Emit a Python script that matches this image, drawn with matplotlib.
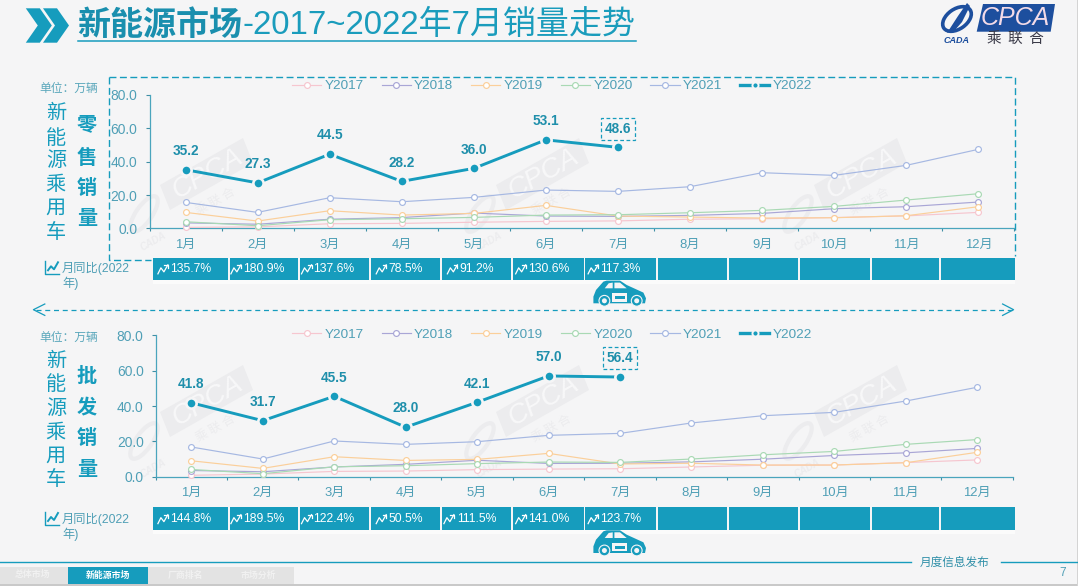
#
#  NEV market monthly sales page: retail chart on top, wholesale below.
#  Page furniture is drawn on a full page axes in pixel coordinates.
#
import matplotlib
matplotlib.use('Agg')
import numpy as np
import matplotlib.pyplot as plt
from matplotlib.lines import Line2D
from matplotlib.patches import Rectangle, Polygon, Circle, Ellipse

plt.rcParams['font.family'] = ['Liberation Sans', 'Noto Sans CJK SC', 'DejaVu Sans']

months = ['1月', '2月', '3月', '4月', '5月', '6月', '7月', '8月', '9月', '10月', '11月', '12月']
years = ['Y2017', 'Y2018', 'Y2019', 'Y2020', 'Y2021', 'Y2022']
yticks = [0, 20, 40, 60, 80]

retail_2017 = [0.6, 0.9, 2.8, 3.0, 3.7, 4.2, 4.5, 5.5, 5.8, 6.5, 7.5, 9.6]
retail_2018 = [3.3, 2.5, 5.5, 6.5, 9.2, 7.4, 7.2, 7.8, 9.0, 11.8, 13.0, 15.8]
retail_2019 = [9.6, 4.4, 10.6, 8.0, 9.0, 13.8, 7.4, 6.8, 6.2, 6.4, 7.6, 13.0]
retail_2020 = [4.0, 1.6, 5.2, 5.8, 6.6, 8.0, 8.2, 9.4, 10.8, 13.2, 17.0, 20.8]
retail_2021 = [15.6, 9.6, 18.4, 16.0, 18.6, 23.0, 22.2, 25.0, 33.4, 31.8, 37.8, 47.4]
retail_2022 = [35.2, 27.3, 44.5, 28.2, 36.0, 53.1, 48.6]

whole_2017 = [0.8, 1.5, 3.0, 3.2, 4.0, 4.3, 4.5, 5.5, 6.5, 6.6, 8.0, 9.5]
whole_2018 = [3.5, 2.8, 5.5, 7.0, 9.3, 7.5, 7.6, 8.4, 9.9, 12.0, 13.5, 16.0]
whole_2019 = [9.0, 4.7, 11.3, 9.2, 9.8, 13.2, 7.2, 7.6, 6.6, 6.6, 7.9, 13.8]
whole_2020 = [4.1, 1.7, 5.6, 6.2, 7.4, 8.3, 8.1, 10.0, 12.4, 14.3, 18.3, 21.0]
whole_2021 = [16.8, 10.0, 20.2, 18.3, 19.8, 23.4, 24.5, 30.4, 34.5, 36.4, 42.8, 50.6]
whole_2022 = [41.8, 31.7, 45.5, 28.0, 42.1, 57.0, 56.4]

retail_yoy = ['135.7%', '180.9%', '137.6%', '78.5%', '91.2%', '130.6%', '117.3%']
whole_yoy = ['144.8%', '189.5%', '122.4%', '50.5%', '111.5%', '141.0%', '123.7%']
tabs = ['总体市场', '新能源市场', '厂商排名', '市场分析']

W, H = 1078, 586
BG = '#f5f5f6'
TEAL = '#169cbd'
TXT = '#4f9fb6'
BLUE = '#1d4f9e'
colors = ['#f6c6cf', '#a9a6d6', '#fbcf9a', '#a9d9b4', '#a6b8e2', TEAL]
DASH = (0, (5, 2.5))

cell_left = [153.2, 229.7, 299.6, 370.9, 441.8, 513.1, 585.3, 658, 729, 800, 872, 941]
cell_right = [228, 297.5, 368.8, 440, 511.4, 583.6, 656.3, 727.4, 798, 870, 939, 1015]


def px_axes(x0, x1, y0, y1):
    # y0 is the pixel row of value 0, y1 the pixel row of the top
    return fig.add_axes([x0 / W, 1 - y0 / H, (x1 - x0) / W, (y0 - y1) / H])


def draw_chart(ax, series, legend_y):
    handles = []
    for i in range(5):
        h, = ax.plot(range(12), series[i], color=colors[i], lw=0.85, marker='o', ms=4.2,
                     mfc='white', mec=colors[i], mew=0.85, zorder=3 + i * 0.1, clip_on=False)
        handles.append(h)
    last = series[5]
    ax.plot(range(len(last)), last, color=TEAL, lw=2.1, marker='o', ms=7.4, mfc=TEAL,
            mec=BG, mew=1.9, zorder=5, clip_on=False)
    handles.append(Line2D([], [], color=TEAL, lw=2.4, marker='o', ms=4.4, mfc=TEAL, mec=BG, mew=1.4))

    for i, v in enumerate(last):
        box = None
        if i == len(last) - 1:
            box = dict(boxstyle='square,pad=0.3', fc='none', ec=TEAL, lw=0.9, ls=(0, (3, 2)))
        ax.annotate('%.1f' % v, (i, v), xytext=(0, 13.5), textcoords='offset points', ha='center',
                    va='center', fontsize=9.8, fontweight='bold', color='#1f8fab', bbox=box, zorder=7)

    ax.set_xlim(-0.5, 11.5)
    ax.set_ylim(0, 80)
    ax.set_yticks(yticks)
    ax.set_yticklabels(['%.1f' % v for v in yticks], fontsize=9.9, color=TXT)
    ax.set_xticks(np.arange(-0.5, 12, 1))
    ax.set_xticklabels([])
    ax.set_xticks(range(12), labels=months, minor=True)
    ax.tick_params(axis='x', which='minor', length=0, pad=7.5, labelsize=9.4, labelcolor=TXT)
    ax.tick_params(axis='x', which='major', length=2.3, color='#3f8fa5', width=0.8)
    ax.tick_params(axis='y', length=2.9, color='#3f8fa5', width=0.8, pad=5.8)
    for s in ['top', 'right']:
        ax.spines[s].set_visible(False)
    for s in ['left', 'bottom']:
        ax.spines[s].set_color('#4aa5bd')
        ax.spines[s].set_linewidth(0.9)
    ax.patch.set_alpha(0)
    ax.legend(handles, years, loc='center left', bbox_to_anchor=(292 / W, 1 - legend_y / H),
              bbox_transform=fig.transFigure, ncol=6, frameon=False, fontsize=9.7, borderpad=0,
              borderaxespad=0, handlelength=2.17, handletextpad=0.25, columnspacing=1.32,
              labelcolor=TXT)


def draw_trend_icon(x, y):
    bg.plot([x, x + 3, x + 6, x + 10], [y + 5, y - 1, y + 3, y - 4], color='white', lw=0.9, zorder=3)
    bg.plot([x + 6.5, x + 10, x + 10], [y - 4, y - 4, y - 0.5], color='white', lw=0.9, zorder=3)


def draw_strip(top, bottom, values, label_y):
    bg.add_patch(Rectangle((cell_left[0], bottom), cell_right[-1] - cell_left[0], 4, fc='#fbfbfb', ec='none'))
    mid = (top + bottom) / 2
    for i in range(12):
        bg.add_patch(Rectangle((cell_left[i], top), cell_right[i] - cell_left[i], bottom - top,
                               fc=TEAL, ec='none', zorder=2))
        if i < len(values):
            c = (cell_left[i] + cell_right[i]) / 2
            bg.text(c, mid, values[i], fontsize=8.8, color='white', ha='center', va='center', zorder=3)
            half = 6.9 * len(values[i]) / 2
            draw_trend_icon(c - half - 12, mid)
    # row caption with small line chart icon
    ix, iy = 45, label_y
    bg.plot([ix, ix, ix + 14], [iy - 7, iy + 6, iy + 6], color=TEAL, lw=1.0)
    bg.plot([ix + 3, ix + 6, ix + 9, ix + 13], [iy + 2, iy - 2, iy + 1, iy - 6], color=TEAL, lw=1.4)
    bg.text(62, label_y, '月同比(2022', fontsize=8.8, color=TXT, ha='left', va='center')
    bg.text(62, label_y + 15, '年)', fontsize=8.8, color=TXT, ha='left', va='center')


def draw_car(cx, cy):
    body = [(-26.3, 10), (-26.3, 3.3), (-23.7, -3.3), (-16.3, -11.7), (-13, -12.7), (0.3, -12.7),
            (7, -8.3), (23.7, -0.7), (26.3, 5), (25.3, 10)]
    win1 = [(-15, -5), (-11, -10), (-7, -10.7), (-7, -5)]
    win2 = [(-5.3, -10.7), (0.3, -10.7), (7, -5), (-5.3, -5)]
    for pts, col in [(body, TEAL), (win1, BG), (win2, BG)]:
        bg.add_patch(Polygon([(cx + a, cy + b) for a, b in pts], fc=col, ec='none', zorder=4))
    bg.add_patch(Rectangle((cx - 8, cy), 15.7, 8.3, fc=BG, ec='none', zorder=5))
    bg.add_patch(Rectangle((cx - 5, cy + 3), 10, 2.6, fc=TEAL, ec='none', zorder=6))
    for dx in (-15.3, 17):
        bg.add_patch(Circle((cx + dx, cy + 7.5), 5.4, fc=TEAL, ec=BG, lw=0.8, zorder=6))
        bg.add_patch(Circle((cx + dx, cy + 7.5), 2.5, fc=BG, ec='none', zorder=7))


def draw_watermark(cx, cy):
    pts = [(-46, 11), (37, -36), (47, -11), (-36, 36)]
    bg.add_patch(Polygon([(cx + a, cy + b) for a, b in pts], fc='#ececee', ec='none', zorder=0.5))
    bg.text(cx + 2, cy, 'CPCA', fontsize=20, style='italic', color='#f8f8f9', rotation=29.5,
            ha='center', va='center', zorder=0.6)
    bg.text(cx + 9, cy + 27, '乘 联 合', fontsize=9, color='#ececee', rotation=29.5,
            ha='center', va='center', zorder=0.6, family='Noto Sans CJK SC')
    bg.add_patch(Ellipse((cx - 62, cy + 40), 16, 42, angle=35, fc='none', ec='#ececee', lw=3, zorder=0.5))
    bg.text(cx - 53, cy + 67, 'CADA', fontsize=7, style='italic', fontweight='bold', color='#ececee',
            rotation=29.5, ha='center', va='center', zorder=0.6)


fig = plt.figure(figsize=(W / 100, H / 100), dpi=100, facecolor=BG)

bg = fig.add_axes([0, 0, 1, 1])
bg.set_xlim(0, W)
bg.set_ylim(H, 0)
bg.axis('off')

# title
for x0 in (25.8, 43):
    bg.add_patch(Polygon([(x0, 8.3), (x0 + 14, 8.3), (x0 + 26, 25.5), (x0 + 14, 42.7), (x0, 42.7), (x0 + 12, 25.5)],
                         fc=TEAL, ec='none'))
bg.text(77, 25, '新能源市场', fontsize=23.8, color='#1a8fae', fontweight='bold', va='center', ha='left',
        family='Noto Sans CJK SC')
bg.text(242, 25, '-2017~2022年7月销量走势', fontsize=23.8, color='#1a9cbc', va='center', ha='left')
bg.plot([77.5, 636], [40.7, 40.7], color=TEAL, lw=1.1)

# logo
bg.add_patch(Polygon([(976.7, 31.7), (1050.7, 31.7), (1055, 4), (983, 4)], fc=BLUE, ec='none'))
bg.text(1015, 18, 'CPCA', fontsize=18, style='italic', color='#f3dbe8', ha='center', va='center')
bg.text(1015, 38.5, '乘  联  合', fontsize=10.5, color='#3a3a48', ha='center', va='center', family='Noto Sans CJK SC')
bg.add_patch(Ellipse((957, 19), 32, 20, angle=-35, fc='none', ec=BLUE, lw=2.6))
bg.add_patch(Polygon([(947, 33), (958, 16), (967, 3), (970, 6), (962, 22), (955, 30)], fc=BLUE, ec='none'))
bg.text(956.7, 40.7, 'CADA', fontsize=6.5, style='italic', fontweight='bold', color=BLUE, ha='center', va='center')

# watermarks
for wx in (206, 542, 860):
    draw_watermark(wx, 174)
    draw_watermark(wx, 401)

# dashed box round the retail chart
bg.plot([108.8, 1015, 1015], [77.4, 77.4, 256], color=TEAL, lw=1.0, ls=DASH)
bg.plot([108.8, 108.8, 151], [77.4, 260, 260], color=TEAL, lw=1.0, ls=DASH)

# double arrow between the charts
bg.plot([36, 1012], [309.7, 309.7], color=TEAL, lw=0.9, ls=(0, (4, 3)))
bg.plot([44.8, 33.4, 44.8], [304, 309.7, 315.4], color=TEAL, lw=0.9)
bg.plot([1002.6, 1013.6, 1002.6], [304, 309.7, 315.4], color=TEAL, lw=0.9)

# side captions
for unit_y, big, big_ys, side_ys in [(88, '零售销量', [124, 157, 187, 218], [114, 138, 161, 185, 208, 232]),
                                     (337, '批发销量', [375, 406.7, 437.3, 468.3], [361.7, 385, 409, 432.7, 456, 479.3])]:
    bg.text(68.3, unit_y, '单位：万辆', fontsize=8.5, color='#5aa7bb', ha='center', va='center',
            family='Noto Sans CJK SC')
    for ch, yy in zip('新能源乘用车', side_ys):
        bg.text(55.8, yy, ch, fontsize=14.5, color=TEAL, ha='center', va='center', family='Noto Sans CJK SC')
    for ch, yy in zip(big, big_ys):
        bg.text(86.8, yy, ch, fontsize=14.5, color=TEAL, fontweight='bold', ha='center', va='center',
                family='Noto Sans CJK SC')

# year on year strips and cars
draw_strip(257.7, 280, retail_yoy, 268.3)
draw_strip(507.3, 530, whole_yoy, 519)
draw_car(619.7, 293.3)
draw_car(619.7, 543)

# footer
bg.plot([0, 910.6], [561.5, 561.5], color=TEAL, lw=1.0)
bg.plot([1000.5, 1077], [561.5, 561.5], color=TEAL, lw=1.0)
bg.text(954.8, 562.5, '月度信息发布', fontsize=8.4, color='#2f8fa8', ha='center', va='center',
        family='Noto Sans CJK SC')
bg.text(1062.6, 573.3, '7', fontsize=8.5, color=TXT, ha='center', va='center')
tab_edges = [0, 67.7, 147.7, 221, 294.3]
tab_mid = [32, 107.7, 185.7, 258]
for i, t in enumerate(tabs):
    active = i == 1
    bg.add_patch(Rectangle((tab_edges[i], 566.7), tab_edges[i + 1] - tab_edges[i], 16.8,
                           fc=TEAL if active else '#e3e3e3', ec='none'))
    bg.text(tab_mid[i], 575, t, fontsize=6.4, color='white' if active else '#f1f1f1', fontweight='bold',
            ha='center', va='center', family='Noto Sans CJK SC')
bg.add_patch(Rectangle((0, 584), W, 2, fc='#c9c9c9', ec='none'))
bg.add_patch(Rectangle((1077, 0), 1, H, fc='#d4d4d4', ec='none'))

# the two charts
ax1 = px_axes(149.5, 1014.3, 228.4, 95)
draw_chart(ax1, [retail_2017, retail_2018, retail_2019, retail_2020, retail_2021, retail_2022], 86)
ax2 = px_axes(155.6, 1012.9, 476.7, 335.3)
draw_chart(ax2, [whole_2017, whole_2018, whole_2019, whole_2020, whole_2021, whole_2022], 335)

fig.savefig('out.png', dpi=100, facecolor=BG)
